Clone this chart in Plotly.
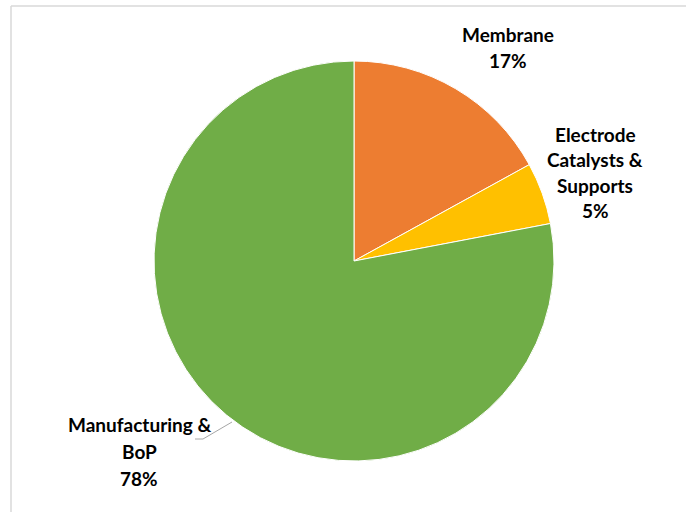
import plotly.graph_objects as go

labels = ["Membrane", "Electrode Catalysts & Supports", "Manufacturing & BoP"]
values = [17, 5, 78]
label_lines = [["Membrane", "17%"],
               ["Electrode", "Catalysts &", "Supports", "5%"],
               ["Manufacturing &", "BoP", "78%"]]
colors = ["#ED7D31", "#FFC000", "#70AD47"]

W, H = 687, 512

def px(x):
    return x / W

def py(y):
    return 1 - y / H

fig = go.Figure()
fig.add_trace(go.Pie(
    labels=labels,
    values=values,
    sort=False,
    direction="clockwise",
    rotation=0,
    marker=dict(colors=colors, line=dict(color="white", width=1)),
    textinfo="none",
    hoverinfo="label+percent",
    domain=dict(x=[px(154), px(554)], y=[py(461), py(61)]),
    showlegend=False,
))

# label blocks: (center x, first line y, line spacing) in pixels
label_pos = [(508, 34, 26.5), (595, 134, 25.5), (139, 424, 27)]
for lines, (x, y0, dy) in zip(label_lines, label_pos):
    for i, line in enumerate(lines):
        fig.add_annotation(
            x=px(x), y=py(y0 + i * dy), xref="paper", yref="paper",
            text="<b>" + line + "</b>", showarrow=False,
            font=dict(family="Lato", size=19, color="#000000"),
            xanchor="center", yanchor="middle",
        )

# leader line for Manufacturing & BoP
fig.add_shape(type="path", xref="paper", yref="paper",
              path=f"M {px(232)},{py(422)} L {px(203)},{py(439)} L {px(195)},{py(439)}",
              line=dict(color="#A6A6A6", width=1))

# chart border (top and left visible)
fig.add_shape(type="line", xref="paper", yref="paper",
              x0=px(11), y0=py(6), x1=px(686), y1=py(6),
              line=dict(color="#D9D9D9", width=1.5))
fig.add_shape(type="line", xref="paper", yref="paper",
              x0=px(11), y0=py(6), x1=px(11), y1=py(512),
              line=dict(color="#D9D9D9", width=1.5))

fig.update_layout(
    width=W, height=H,
    margin=dict(l=0, r=0, t=0, b=0),
    paper_bgcolor="white", plot_bgcolor="white",
)

fig.write_html("out.html")
